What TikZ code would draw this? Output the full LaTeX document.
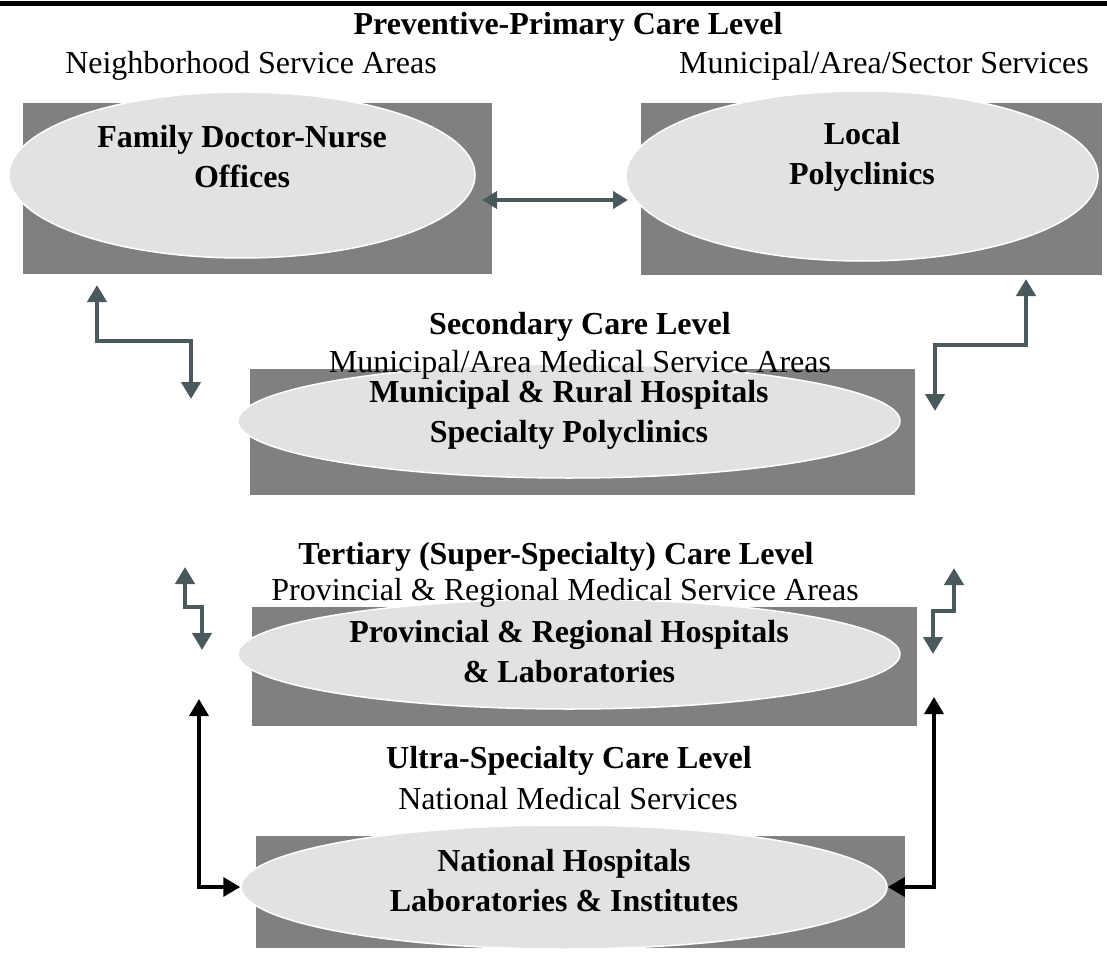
\documentclass[tikz,border=0pt]{standalone}
\usepackage{fontspec}
\setmainfont{Liberation Serif}
\usetikzlibrary{arrows.meta,positioning,shapes.geometric}
\definecolor{cfSlate}{HTML}{4A5A5C}
\definecolor{cfBox}{HTML}{808080}
\definecolor{cfGrain}{HTML}{E2E2E2}
\newcommand{\lvfont}{\fontsize{32}{40}\selectfont}
\tikzset{
  >={Triangle[length=17pt,width=19pt]},
  levelbox/.style={fill=cfBox, draw=none},
  unit/.style={ellipse, fill=cfGrain, draw=white, line width=1.5pt, inner sep=0pt},
  unittxt/.style={font=\lvfont\bfseries, align=center, inner sep=0pt},
  lvl/.style={font=\lvfont\bfseries, inner sep=0pt, text height=21pt, text depth=0pt},
  area/.style={font=\lvfont, inner sep=0pt, text height=21pt, text depth=0pt},
  flow/.style={<->, draw=cfSlate, line width=4.5pt},
  nflow/.style={<->, draw=black, line width=3.5pt},
}
\begin{document}
\begin{tikzpicture}[x=1pt,y=-1pt]
  \useasboundingbox (0,0) rectangle (1107,968);
  \fill[black] (0,1) rectangle (1107,6);
  % gray blocks
  \fill[levelbox] (23,103) rectangle (492,274);
  \fill[levelbox] (641,103) rectangle (1102,275);
  \fill[levelbox] (250,369) rectangle (915,495);
  \fill[levelbox] (252,607) rectangle (917,726);
  \fill[levelbox] (256,836) rectangle (905,948);
  % service units
  \node[unit,minimum width=466pt,minimum height=166pt] (fdn) at (242,175) {};
  \node[unit,minimum width=472pt,minimum height=170pt] (poly) at (862,176) {};
  \node[unit,minimum width=662pt,minimum height=114pt] (mrh) at (569,421) {};
  \node[unit,minimum width=662pt,minimum height=110pt] (prh) at (569,654) {};
  \node[unit,minimum width=646pt,minimum height=124pt] (nat) at (564,887) {};
  \node[unittxt,yshift=18pt] (fdn-t) at (fdn) {Family Doctor-Nurse\\Offices};
  \node[unittxt,yshift=19pt] (poly-t) at (poly) {Local\\Polyclinics};
  \node[unittxt,yshift=6pt] (mrh-t) at (mrh) {Municipal \& Rural Hospitals\\Specialty Polyclinics};
  \node[unittxt,yshift=2pt] (prh-t) at (prh) {Provincial \& Regional Hospitals\\\& Laboratories};
  \node[unittxt,yshift=6pt] (nat-t) at (nat) {National Hospitals\\Laboratories \& Institutes};
  % care level titles
  \node[lvl] (prim) at (568,24) {Preventive-Primary Care Level};
  \node[area] (nbh) at (251,63) {Neighborhood Service Areas};
  \node[area] (mas) at (884,63) {Municipal/Area/Sector Services};
  \node[lvl] (sec) at (580,324) {Secondary Care Level};
  \node[area] (secar) at (580,362) {Municipal/Area Medical Service Areas};
  \node[lvl] (ter) at (556,554) {Tertiary (Super-Specialty) Care Level};
  \node[area] (terar) at (565,590) {Provincial \& Regional Medical Service Areas};
  \node[lvl] (ult) at (569,758) {Ultra-Specialty Care Level};
  \node[area] (ultar) at (568,799) {National Medical Services};
  % connector ends
  \coordinate (pa) at (482,200);
  \coordinate (pb) at (628,200);
  \coordinate (sl1) at (97,285);
  \coordinate (sl2) at (191,399);
  \coordinate (sr1) at (1026,279);
  \coordinate (sr2) at (935,411);
  \coordinate (tl1) at (185,567);
  \coordinate (tl2) at (202,650);
  \coordinate (tr1) at (954,568);
  \coordinate (tr2) at (933,654);
  \coordinate (nl) at (199,699);
  \coordinate (nr) at (934,697);
  % referrals
  \draw[flow,>={Triangle[length=15pt,width=17pt]},line width=4pt] (pa) -- (pb);
  \draw[flow] (sl1) -- ++(0,56) -| (sl2);
  \draw[flow] (sr1) -- ++(0,66) -| (sr2);
  \draw[flow] (tl1) -- ++(0,40) -| (tl2);
  \draw[flow] (tr1) -- ++(0,43) -| (tr2);
  \draw[nflow] (nl) |- (nat.west);
  \draw[nflow] (nr) |- (nat.east);
\end{tikzpicture}
\end{document}
